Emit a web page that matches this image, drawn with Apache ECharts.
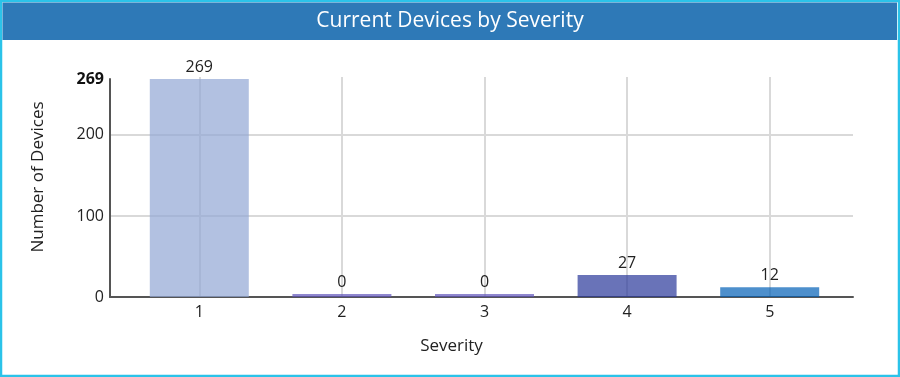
<!DOCTYPE html>
<html>
<head>
<meta charset="utf-8">
<script src="https://cdn.jsdelivr.net/npm/echarts@6/dist/echarts.min.js"></script>
<style>
  html, body { margin: 0; padding: 0; background: #fff; }
  #chart { width: 900px; height: 377px; }
</style>
</head>
<body>
<div id="chart"></div>
<script>
// data
const severities = ['1', '2', '3', '4', '5'];
const deviceCounts = [269, 0, 0, 27, 12];
const barColors = [
  'rgba(146,166,212,0.7)',
  'rgba(95,84,186,0.7)',
  'rgba(95,84,186,0.7)',
  'rgba(42,56,154,0.7)',
  'rgba(2,96,182,0.7)'
];
const yMax = 269;

let myChart = echarts.init(document.getElementById('chart'));
let option;

const font = '"Open Sans", "Noto Sans", sans-serif';
// band of one category = (900 - 128 - 59) / 5, half of it used to centre the vertical grid lines
const halfBand = (900 - 128 - 59) / severities.length / 2;

option = {
  backgroundColor: '#fff',
  textStyle: { fontFamily: font },
  graphic: [
    {
      type: 'rect',
      z: -10,
      shape: { x: 1, y: 1, width: 898, height: 375 },
      style: { fill: '#fff', stroke: '#2bc3e9', lineWidth: 2.5 }
    },
    {
      type: 'rect',
      z: -9,
      shape: { x: 2.5, y: 2.5, width: 894.5, height: 37.5 },
      style: { fill: '#2e79b7' }
    }
  ],
  title: {
    text: 'Current Devices by Severity',
    left: 'center',
    top: 6,
    textStyle: { color: '#fff', fontSize: 21, fontWeight: 'normal', fontFamily: font }
  },
  grid: [
    // bars
    { left: 128, right: 59, top: 79, bottom: 80 },
    // frame: y axis, horizontal grid lines, x axis line
    { left: 110, right: 47, top: 79, bottom: 80 },
    // vertical grid lines through the category centres
    { left: 128 + halfBand, right: 59 + halfBand, top: 77, bottom: 80 }
  ],
  xAxis: [
    {
      type: 'category',
      gridIndex: 0,
      data: severities,
      axisLine: { show: false },
      axisTick: { show: false },
      axisLabel: { color: '#222', fontSize: 16, margin: 7, fontFamily: font },
      splitLine: { show: false },
      name: 'Severity',
      nameLocation: 'middle',
      nameGap: 41,
      nameTextStyle: { color: '#222', fontSize: 17, padding: [0, 66, 0, 0], fontFamily: font }
    },
    {
      type: 'value',
      gridIndex: 1,
      min: 0,
      max: 1,
      axisLine: { show: true, lineStyle: { color: '#555', width: 2 } },
      axisTick: { show: false },
      axisLabel: { show: false },
      splitLine: { show: false }
    },
    {
      type: 'category',
      gridIndex: 2,
      data: severities,
      boundaryGap: false,
      axisLine: { show: false },
      axisTick: { show: false },
      axisLabel: { show: false },
      splitLine: { show: true, interval: 0, lineStyle: { color: '#d9d9d9', width: 2 } }
    }
  ],
  yAxis: [
    {
      type: 'value',
      gridIndex: 0,
      min: 0,
      max: yMax,
      show: false
    },
    {
      type: 'value',
      gridIndex: 1,
      min: 0,
      max: yMax,
      interval: 100,
      axisLine: { show: true, lineStyle: { color: '#555', width: 2 } },
      axisTick: { show: false },
      axisLabel: {
        color: '#222',
        fontSize: 16,
        margin: 6,
        fontFamily: font,
        formatter: function (v) {
          return v === yMax ? '{b|' + v + '}' : String(v);
        },
        rich: { b: { fontWeight: 'bold', fontSize: 16, color: '#111', fontFamily: font } }
      },
      splitLine: {
        show: true,
        lineStyle: { color: '#d9d9d9', width: 2 },
        showMaxLine: false
      },
      name: 'Number of Devices',
      nameLocation: 'middle',
      nameGap: 63,
      nameTextStyle: { color: '#222', fontSize: 17, padding: [0, 0, 0, 22], fontFamily: font }
    },
    {
      type: 'value',
      gridIndex: 2,
      min: 0,
      max: 1,
      show: false
    }
  ],
  series: [
    {
      type: 'bar',
      xAxisIndex: 0,
      yAxisIndex: 0,
      barWidth: 99,
      barMinHeight: 3,
      data: deviceCounts.map((v, i) => ({ value: v, itemStyle: { color: barColors[i] } })),
      label: {
        show: true,
        position: 'top',
        distance: 4,
        color: '#222',
        fontSize: 16,
        fontFamily: font
      }
    }
  ]
};

option && myChart.setOption(option);
</script>
</body>
</html>
